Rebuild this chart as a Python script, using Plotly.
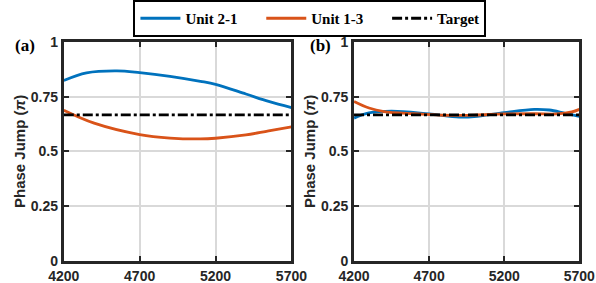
import plotly.graph_objects as go

# wavelength-ish x values and phase jumps (units of pi)
xa_blue = [4200, 4350, 4550, 4700, 4900, 5100, 5200, 5400, 5550, 5700]
ya_blue = [0.824, 0.859, 0.868, 0.860, 0.843, 0.820, 0.806, 0.762, 0.728, 0.700]
xa_red = [4200, 4400, 4700, 4900, 5100, 5200, 5400, 5550, 5700]
ya_red = [0.688, 0.629, 0.577, 0.561, 0.557, 0.560, 0.575, 0.594, 0.612]

xb_blue = [4200, 4300, 4450, 4700, 4900, 5000, 5200, 5400, 5500, 5600, 5700]
yb_blue = [0.652, 0.676, 0.684, 0.671, 0.657, 0.659, 0.677, 0.692, 0.689, 0.675, 0.660]
xb_red = [4200, 4300, 4400, 4600, 4800, 5000, 5200, 5400, 5550, 5650, 5700]
yb_red = [0.728, 0.698, 0.682, 0.672, 0.665, 0.666, 0.671, 0.672, 0.671, 0.680, 0.692]

target = 0.667
x_range = [4200, 5700]
x_ticks = [4200, 4700, 5200, 5700]
y_ticks = [0, 0.25, 0.5, 0.75, 1]
y_labels = ["0", "0.25", "0.5", "0.75", "1"]
names = ["Unit 2-1", "Unit 1-3", "Target"]

BLUE = "#0072BD"
RED = "#D95319"
sans = "Liberation Sans, Arial"
serif = "Liberation Serif, Times New Roman"
gap = "\u00a0" * 5

fig = go.Figure()

panels = [
    ("x", "y", xa_blue, ya_blue, xa_red, ya_red, True),
    ("x2", "y2", xb_blue, yb_blue, xb_red, yb_red, False),
]
for xr, yr, xbl, ybl, xrd, yrd, show in panels:
    fig.add_trace(go.Scatter(x=xbl, y=ybl, xaxis=xr, yaxis=yr, mode="lines",
                             line=dict(color=BLUE, width=2.8, shape="spline"),
                             name=names[0] + gap, showlegend=show))
    fig.add_trace(go.Scatter(x=xrd, y=yrd, xaxis=xr, yaxis=yr, mode="lines",
                             line=dict(color=RED, width=2.8, shape="spline"),
                             name=names[1] + gap, showlegend=show))
    fig.add_trace(go.Scatter(x=x_range, y=[target, target], xaxis=xr, yaxis=yr, mode="lines",
                             line=dict(color="black", width=2.8, dash="10px,3px,3px,3px"),
                             name=names[2], showlegend=show))

xax = dict(range=x_range, tickvals=x_ticks, showgrid=True, gridcolor="#d9d9d9", gridwidth=2,
           showline=True, linecolor="#262626", linewidth=3, mirror="ticks",
           ticks="inside", ticklen=5, tickwidth=2, tickcolor="#262626", automargin=False,
           ticklabeloverflow="allow",
           tickfont=dict(family=sans, size=14, color="#262626", weight="bold"), zeroline=False)
yax = dict(range=[0, 1], tickvals=y_ticks, ticktext=y_labels, showgrid=True, gridcolor="#d9d9d9",
           gridwidth=2, showline=True, linecolor="#262626", linewidth=3, mirror="ticks",
           ticks="inside", ticklen=5, tickwidth=2, tickcolor="#262626", automargin=False,
           ticklabeloverflow="allow",
           tickfont=dict(family=sans, size=14, color="#262626", weight="bold"), zeroline=False,
           title=dict(text="Phase Jump (<i>π</i>)", standoff=2,
                      font=dict(family=sans, size=15, color="#262626", weight="bold")))

fig.update_layout(
    width=596, height=283,
    margin=dict(l=0, r=0, t=0, b=0, autoexpand=False),
    plot_bgcolor="white", paper_bgcolor="white",
    xaxis=dict(xax, domain=[0.107, 0.489], anchor="y"),
    yaxis=dict(yax, domain=[0.078, 0.852], anchor="x"),
    xaxis2=dict(xax, domain=[0.594, 0.972], anchor="y2"),
    yaxis2=dict(yax, domain=[0.078, 0.852], anchor="x2"),
    legend=dict(orientation="h", x=0.52, xanchor="center", y=1.0, yanchor="top",
                bordercolor="black", borderwidth=2, bgcolor="white",
                font=dict(family=serif, size=15, color="black", weight="bold"),
                itemwidth=40, tracegroupgap=0),
    annotations=[
        dict(text="(a)", x=0.042, y=0.84, xref="paper", yref="paper", showarrow=False,
             xanchor="center", yanchor="middle",
             font=dict(family=serif, size=17, color="black", weight="bold")),
        dict(text="(b)", x=0.537, y=0.84, xref="paper", yref="paper", showarrow=False,
             xanchor="center", yanchor="middle",
             font=dict(family=serif, size=17, color="black", weight="bold")),
    ],
)

# drop the default page margin so the figure sits at the window's corner
fig.write_html("out.html", config={"displayModeBar": False},
               post_script="document.body.style.margin = '0';")
